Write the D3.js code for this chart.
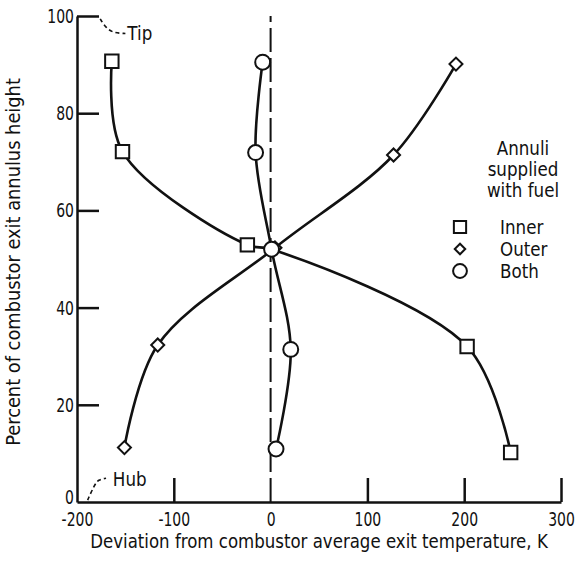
<!DOCTYPE html>
<html>
<head>
<meta charset="utf-8">
<script src="https://cdn.jsdelivr.net/npm/d3@7"></script>
<style>
  body { margin: 0; background: #fff; }
  svg { display: block; }
  text { font-family: "DejaVu Sans", sans-serif; fill: #111; }
</style>
</head>
<body>
<div class="chart"></div>
<script>
// values (deviation K, percent of annulus height)
const innerX = [-164, -153, -24, 203, 248]
const innerY = [90.7, 72.1, 52.9, 32.0, 10.2]
const outerX = [191.5, 127, 4.5, -116.6, -151]
const outerY = [90.1, 71.4, 52.3, 32.3, 11.2]
const bothX = [-8.2, -15.5, 1, 20.8, 5.6]
const bothY = [90.5, 71.9, 52, 31.4, 10.9]
// point where the inner curve passes through the common crossing
const crossX = 1
const crossY = 52

const xTicks = [-200, -100, 0, 100, 200, 300]
const yTicks = [0, 20, 40, 60, 80, 100]
const legendNames = ['Inner', 'Outer', 'Both']
const legendTitle = ['Annuli', 'supplied', 'with fuel']

const W = 576, H = 561

const svg = d3.select('.chart').append('svg')
  .attr('width', W)
  .attr('height', H)

const x = d3.scaleLinear().domain([-200, 300]).range([77, 561])
const y = d3.scaleLinear().domain([0, 100]).range([502, 16])

// the lettering of the original is narrow, so squeeze the text a bit
function squeeze (sel, k) {
  sel.each(function () {
    const w = this.getComputedTextLength()
    d3.select(this).attr('textLength', w * k).attr('lengthAdjust', 'spacingAndGlyphs')
  })
}

// axes
const tk = 0.7
const xAxis = svg.append('g')
  .attr('transform', 'translate(0,' + y(0) + ')')
  .call(d3.axisBottom(x).tickValues(xTicks).tickFormat((d) => String(d))
    .tickSizeInner(-24).tickSizeOuter(0).tickPadding(10))
const yAxis = svg.append('g')
  .attr('transform', 'translate(' + x(-200) + ',0)')
  .call(d3.axisLeft(y).tickValues(yTicks).tickSizeInner(-22).tickSizeOuter(0).tickPadding(3))

for (const g of [xAxis, yAxis]) {
  g.select('.domain').attr('stroke', '#111').attr('stroke-width', 2.5)
  g.selectAll('.tick line').attr('stroke', '#111').attr('stroke-width', 2.5)
  g.selectAll('.tick text').style('font-size', '20px').attr('fill', '#111')
    .attr('transform', 'scale(' + tk + ',1)')
}
yAxis.selectAll('.tick text').attr('x', -3 / tk)
xAxis.selectAll('.tick line').filter((d) => d === -200 || d === 0).remove()
yAxis.selectAll('.tick line').filter((d) => d === 0).remove()
yAxis.selectAll('.tick text').filter((d) => d === 0).attr('dy', '0.05em')

// zero reference line
svg.append('line')
  .attr('x1', x(0)).attr('x2', x(0))
  .attr('y1', y(0)).attr('y2', y(100))
  .attr('stroke', '#111')
  .attr('stroke-width', 2)
  .attr('stroke-dasharray', '24,6')

// axis titles, narrowed with a scale so they keep their true extent
const xTitle = svg.append('text')
  .attr('text-anchor', 'middle')
  .style('font-size', '19px')
  .text('Deviation from combustor average exit temperature, K')
const xw = xTitle.node().getComputedTextLength()
xTitle.attr('transform', 'translate(' + (x(-200) + x(300)) / 2 + ',548) scale(' + (458 / xw) + ',1)')

const yTitle = svg.append('text')
  .attr('text-anchor', 'middle')
  .style('font-size', '19px')
  .text('Percent of combustor exit annulus height')
const yw = yTitle.node().getComputedTextLength()
yTitle.attr('transform', 'translate(20,262) rotate(-90) scale(' + (368 / yw) + ',1)')

// curves
const line = d3.line()
  .x((d) => x(d[0]))
  .y((d) => y(d[1]))
  .curve(d3.curveCatmullRom.alpha(0.5))

const innerPts = d3.zip(innerX, innerY)
const outerPts = d3.zip(outerX, outerY)
const bothPts = d3.zip(bothX, bothY)
const innerPath = innerPts.slice(0, 3).concat([[crossX, crossY]], innerPts.slice(3))

for (const pts of [innerPath, outerPts, bothPts]) {
  svg.append('path')
    .attr('d', line(pts))
    .attr('fill', 'none')
    .attr('stroke', '#111')
    .attr('stroke-width', 2.6)
}

// markers (diamond = square turned 45 degrees)
const sym = {
  Inner: { s: d3.symbol().type(d3.symbolSquare).size(180), rot: 0 },
  Outer: { s: d3.symbol().type(d3.symbolSquare).size(85), rot: 45 },
  Both: { s: d3.symbol().type(d3.symbolCircle).size(175), rot: 0 }
}

function marks (pts, name) {
  svg.append('g').selectAll('path')
    .data(pts)
    .enter()
    .append('path')
      .attr('transform', (d) => 'translate(' + x(d[0]) + ',' + y(d[1]) + ') rotate(' + sym[name].rot + ')')
      .attr('d', sym[name].s())
      .attr('fill', '#fff')
      .attr('stroke', '#111')
      .attr('stroke-width', 2)
}
marks(outerPts, 'Outer')
marks(bothPts, 'Both')
marks(innerPts, 'Inner')

// Tip / Hub notes
const notes = svg.append('g')
const note = d3.line()
  .x((d) => x(d[0]))
  .y((d) => y(d[1]))
  .curve(d3.curveBasis)

notes.append('path')
  .attr('d', note([[-176, 99.4], [-170, 97.5], [-162, 96.5], [-150, 96.4]]))
  .attr('fill', 'none').attr('stroke', '#111').attr('stroke-width', 1.6)
  .attr('stroke-dasharray', '4,3')
notes.append('text')
  .attr('x', x(-148)).attr('y', y(96.5)).attr('dy', '0.35em')
  .style('font-size', '19px')
  .text('Tip')

notes.append('path')
  .attr('d', note([[-189, 0.4], [-182, 3.5], [-178, 4.6], [-170, 4.9]]))
  .attr('fill', 'none').attr('stroke', '#111').attr('stroke-width', 1.6)
  .attr('stroke-dasharray', '4,3')
notes.append('text')
  .attr('x', x(-163)).attr('y', y(4.6)).attr('dy', '0.35em')
  .style('font-size', '19px')
  .text('Hub')

// legend
const leg = svg.append('g')
legendTitle.forEach((t, i) => {
  leg.append('text')
    .attr('x', 523)
    .attr('y', 155 + i * 21)
    .attr('text-anchor', 'middle')
    .style('font-size', '19px')
    .text(t)
})
const legSym = {
  Inner: { s: d3.symbol().type(d3.symbolSquare).size(150), rot: 0 },
  Outer: { s: d3.symbol().type(d3.symbolSquare).size(55), rot: 45 },
  Both: { s: d3.symbol().type(d3.symbolCircle).size(150), rot: 0 }
}
legendNames.forEach((n, i) => {
  const yy = 227 + i * 22
  leg.append('path')
    .attr('transform', 'translate(460,' + yy + ') rotate(' + legSym[n].rot + ')')
    .attr('d', legSym[n].s())
    .attr('fill', '#fff')
    .attr('stroke', '#111')
    .attr('stroke-width', 2)
  leg.append('text')
    .attr('x', 500)
    .attr('y', yy)
    .attr('dy', '0.35em')
    .style('font-size', '19px')
    .text(n)
})
squeeze(leg.selectAll('text'), 0.88)
squeeze(notes.selectAll('text'), 0.88)
</script>
</body>
</html>
